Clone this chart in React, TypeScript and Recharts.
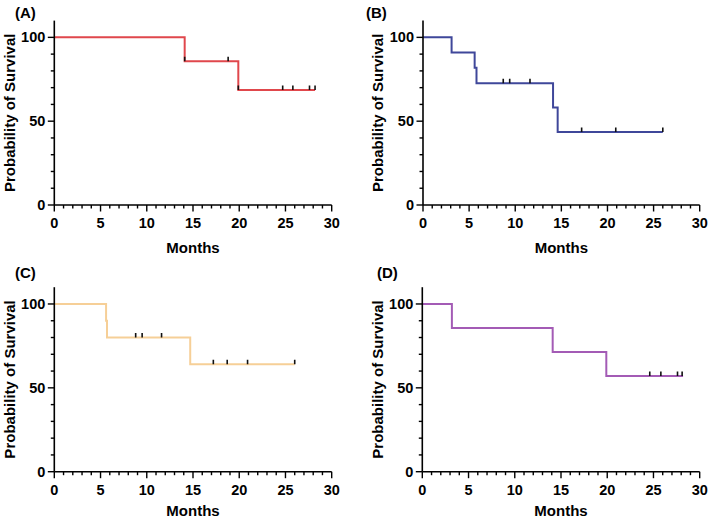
import React from "react";
import { ComposedChart, Line, Scatter, XAxis, YAxis } from "recharts";

// Kaplan-Meier steps: time (months) and survival (%)
const timesA = [0, 14.1, 19.9, 28.2];
const survA = [100, 85.7, 68.6, 68.6];
const censorTimesA = [14.1, 18.8, 19.9, 24.7, 25.8, 27.6, 28.2];
const censorSurvA = [85.7, 85.7, 68.6, 68.6, 68.6, 68.6, 68.6];

const timesB = [0, 3.1, 5.6, 5.8, 14.1, 14.6, 26.0];
const survB = [100, 90.9, 81.8, 72.7, 58.2, 43.6, 43.6];
const censorTimesB = [8.7, 9.4, 11.6, 17.2, 20.9, 26.0];
const censorSurvB = [72.7, 72.7, 72.7, 43.6, 43.6, 43.6];

const timesC = [0, 5.6, 5.7, 14.7, 26.0];
const survC = [100, 90, 80, 64, 64];
const censorTimesC = [8.8, 9.5, 11.6, 17.2, 18.7, 20.9, 26.0];
const censorSurvC = [80, 80, 80, 64, 64, 64, 64];

const timesD = [0, 3.2, 14.1, 19.9, 28.2];
const survD = [100, 85.7, 71.4, 57.1, 57.1];
const censorTimesD = [24.6, 25.8, 27.6, 28.1];
const censorSurvD = [57.1, 57.1, 57.1, 57.1];

const xTicks = Array.from({ length: 31 }, (_, i) => i);
const yTicks = [0, 10, 20, 30, 40, 50, 60, 70, 80, 90, 100];

const FONT = "'Liberation Sans', Arial, Helvetica, sans-serif";

const zip = (t: number[], s: number[]) => t.map((v, i) => ({ t: v, s: s[i] }));

const XTick = (props: any) => {
  const { x, y, payload } = props;
  const major = payload.value % 5 === 0;
  return (
    <g>
      <line x1={x} x2={x} y1={y} y2={y + (major ? 6.5 : 3.5)} stroke="#000" strokeWidth={1.4} />
      {major && (
        <text x={x} y={y + 18} textAnchor="middle" dominantBaseline="central" fontFamily={FONT} fontWeight={700} fontSize={14.5} fill="#000">
          {payload.value}
        </text>
      )}
    </g>
  );
};

const YTick = (props: any) => {
  const { x, y, payload } = props;
  const major = payload.value % 50 === 0;
  return (
    <g>
      <line x1={x} x2={x - (major ? 6.5 : 3.5)} y1={y} y2={y} stroke="#000" strokeWidth={1.4} />
      {major && (
        <text x={x - 9} y={y} textAnchor="end" dominantBaseline="central" fontFamily={FONT} fontWeight={700} fontSize={14.5} fill="#000">
          {payload.value}
        </text>
      )}
    </g>
  );
};

const CensorMark = (props: any) => {
  const { cx, cy } = props;
  return <line x1={cx} x2={cx} y1={cy - 4.5} y2={cy} stroke="#111" strokeWidth={1.6} />;
};

interface PanelProps {
  letter: string;
  steps: { t: number; s: number }[];
  censors: { t: number; s: number }[];
  color: string;
  left: number;
  top: number;
  width: number;
  axisX: number; // absolute x of y-axis
  xEnd: number; // absolute x of 30 months
  yZero: number; // absolute y of 0%
  yTop: number; // absolute y of 110%
  letterX: number;
  titleGap: number;
}

const Panel = ({ letter, steps, censors, color, left, top, width, axisX, xEnd, yZero, yTop, letterX, titleGap }: PanelProps) => {
  const height = 260;
  const yAxisW = 50;
  const xAxisH = 45;
  const margin = {
    left: axisX - left - yAxisW,
    right: left + width - xEnd,
    top: yTop - top,
    bottom: top + height - yZero - xAxisH,
  };
  const titleX = axisX - 45;
  const midY = (yTop + yZero) / 2;
  return (
    <>
      <div style={{ position: "absolute", left, top }}>
        <ComposedChart width={width} height={height} margin={margin} style={{ overflow: "visible" }}>
          <XAxis
            type="number"
            dataKey="t"
            domain={[0, 30]}
            ticks={xTicks}
            interval={0}
            tickSize={0}
            tickMargin={0}
            tick={<XTick />}
            tickLine={false}
            axisLine={{ stroke: "#000", strokeWidth: 1.6 }}
            height={xAxisH}
            allowDataOverflow
          />
          <YAxis
            type="number"
            dataKey="s"
            domain={[0, 110]}
            ticks={yTicks}
            interval={0}
            tickSize={0}
            tickMargin={0}
            tick={<YTick />}
            tickLine={false}
            axisLine={{ stroke: "#000", strokeWidth: 1.6 }}
            width={yAxisW}
            allowDataOverflow
          />
          <Line
            data={steps}
            dataKey="s"
            type="stepAfter"
            stroke={color}
            strokeWidth={2}
            dot={false}
            isAnimationActive={false}
          />
          <Scatter data={censors} dataKey="s" shape={<CensorMark />} isAnimationActive={false} />
        </ComposedChart>
      </div>
      <svg
        width={709}
        height={520}
        style={{ position: "absolute", left: 0, top: 0, pointerEvents: "none" }}
      >
        <text
          x={titleX}
          y={midY}
          transform={`rotate(-90, ${titleX}, ${midY})`}
          textAnchor="middle"
          dominantBaseline="central"
          fontFamily={FONT}
          fontWeight={700}
          fontSize={15}
          fill="#000"
        >
          Probability of Survival
        </text>
        <text
          x={(axisX + xEnd) / 2}
          y={yZero + titleGap}
          textAnchor="middle"
          dominantBaseline="central"
          fontFamily={FONT}
          fontWeight={700}
          fontSize={15}
          fill="#000"
        >
          Months
        </text>
        <text
          x={letterX}
          y={top + 12}
          dominantBaseline="central"
          fontFamily={FONT}
          fontWeight={700}
          fontSize={15}
          fill="#000"
        >
          {letter}
        </text>
      </svg>
    </>
  );
};

export default function App() {
  return (
    <div style={{ position: "absolute", left: 0, top: 0, width: 709, height: 520, background: "#fff", overflow: "hidden" }}>
      <Panel
        letter="(A)"
        steps={zip(timesA, survA)}
        censors={zip(censorTimesA, censorSurvA)}
        color="#e0474c"
        left={0}
        top={0}
        width={354}
        axisX={54.3}
        xEnd={331.7}
        yZero={205}
        yTop={20.6}
        letterX={15}
        titleGap={42}
      />
      <Panel
        letter="(B)"
        steps={zip(timesB, survB)}
        censors={zip(censorTimesB, censorSurvB)}
        color="#3f479a"
        left={354}
        top={0}
        width={355}
        axisX={423}
        xEnd={699.7}
        yZero={205}
        yTop={20.6}
        letterX={366}
        titleGap={42}
      />
      <Panel
        letter="(C)"
        steps={zip(timesC, survC)}
        censors={zip(censorTimesC, censorSurvC)}
        color="#f6cf97"
        left={0}
        top={260}
        width={354}
        axisX={54.3}
        xEnd={331.7}
        yZero={471.7}
        yTop={287.2}
        letterX={15}
        titleGap={38.5}
      />
      <Panel
        letter="(D)"
        steps={zip(timesD, survD)}
        censors={zip(censorTimesD, censorSurvD)}
        color="#a35bb5"
        left={354}
        top={260}
        width={355}
        axisX={422.3}
        xEnd={699.7}
        yZero={471.7}
        yTop={287.2}
        letterX={377}
        titleGap={38.5}
      />
    </div>
  );
}
